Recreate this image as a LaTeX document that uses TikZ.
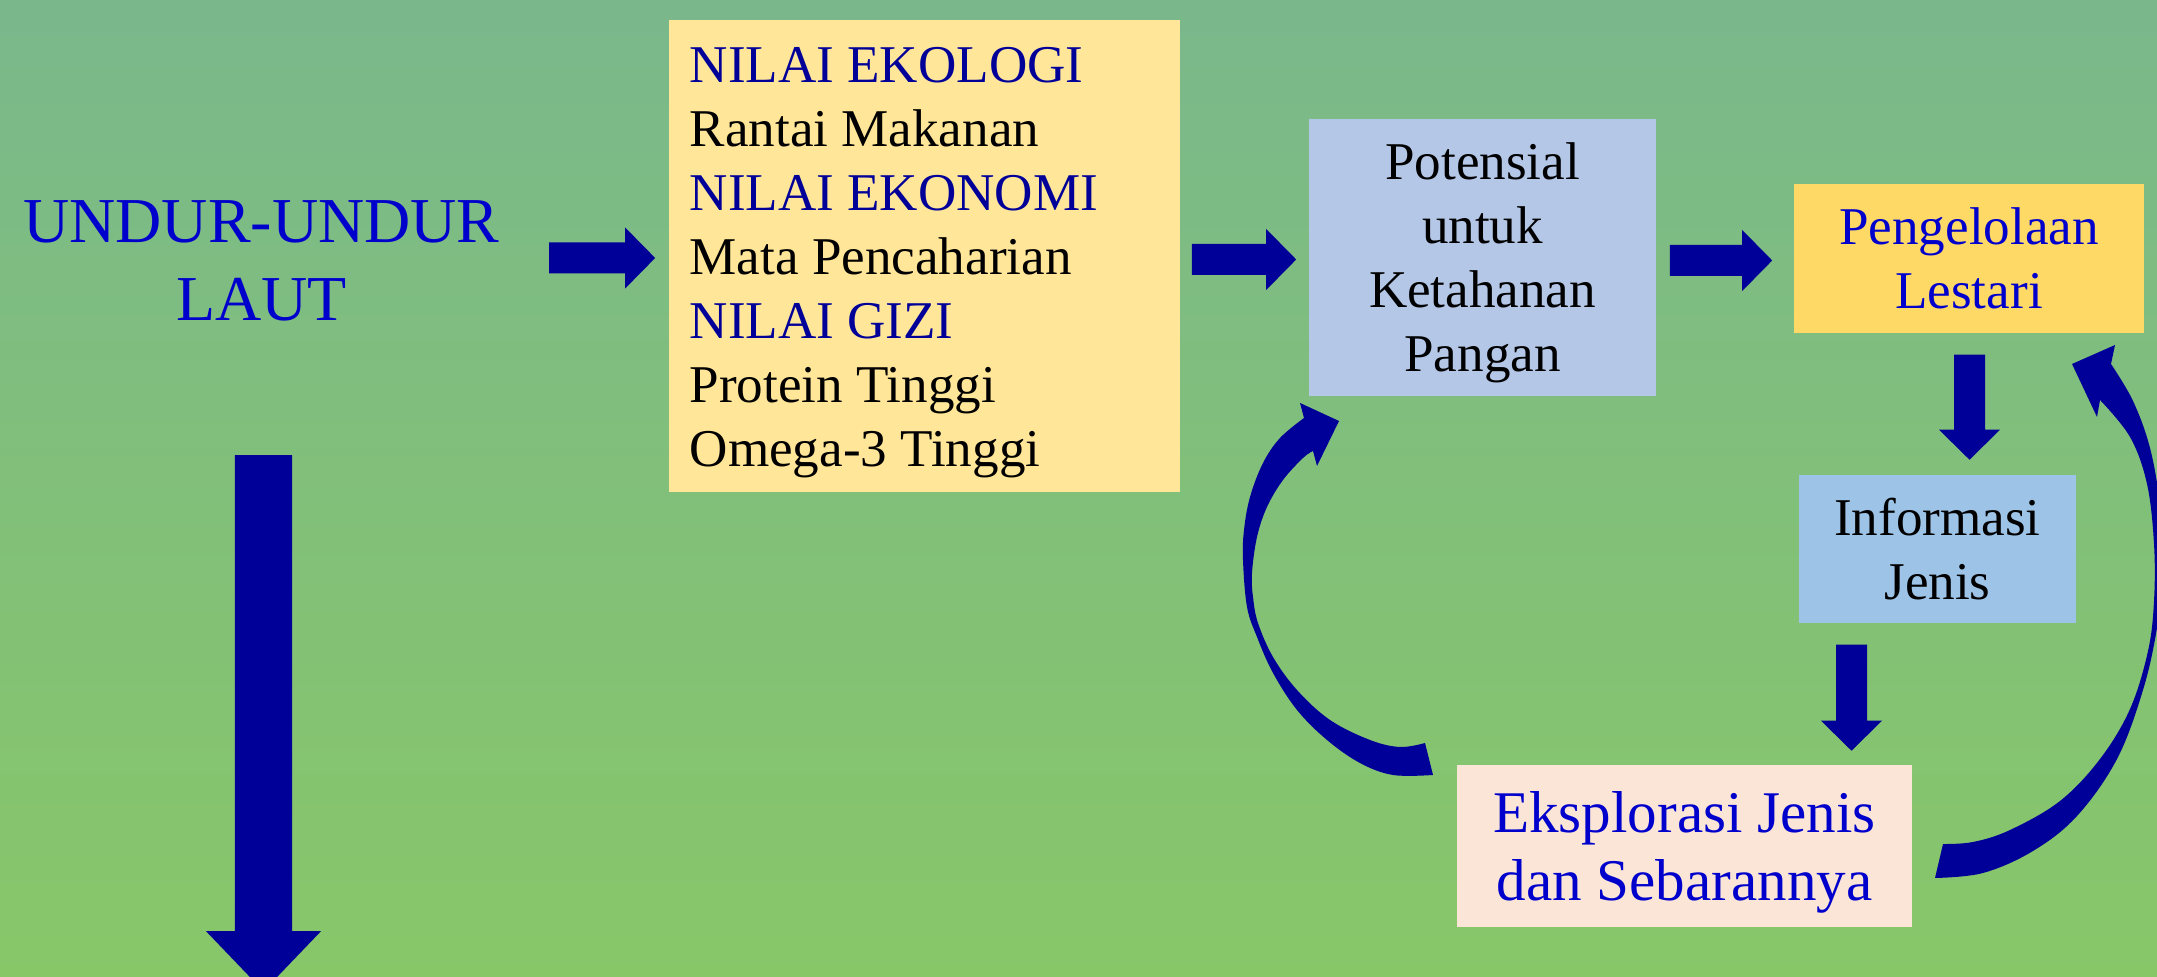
\documentclass[tikz,border=0pt]{standalone}
\usepackage{fontspec}
\setmainfont{Liberation Serif}
\usetikzlibrary{calc}
\definecolor{bgtop}{HTML}{7AB88C}
\definecolor{bgbot}{HTML}{88C768}
\definecolor{arrowc}{HTML}{000099}
\definecolor{navyt}{HTML}{000099}
\definecolor{bluet}{HTML}{0000CC}
\definecolor{yel}{HTML}{FFE699}
\definecolor{lblue}{HTML}{B4C7E7}
\definecolor{gold}{HTML}{FFD966}
\definecolor{sky}{HTML}{9DC3E6}
\definecolor{peach}{HTML}{FBE5D6}
\newcommand{\fbig}{\fontsize{18.2pt}{22.2pt}\selectfont}
\newcommand{\fmid}{\fontsize{15.1pt}{18.2pt}\selectfont}
\newcommand{\fex}{\fontsize{16.8pt}{19.6pt}\selectfont}
% horizontal block arrow: start, tip, half shaft, half head, head length
\newcommand{\hblk}[5]{\fill[arrowc] let \p1=#1, \p2=#2 in (\x1,\y1+#3) -- (\x2-#5,\y1+#3) -- (\x2-#5,\y1+#4) -- (\x2,\y1) -- (\x2-#5,\y1-#4) -- (\x2-#5,\y1-#3) -- (\x1,\y1-#3) -- cycle;}
% downward block arrow
\newcommand{\vblk}[5]{\fill[arrowc] let \p1=#1, \p2=#2 in (\x1-#3,\y1) -- (\x1-#3,\y2+#5) -- (\x1-#4,\y2+#5) -- (\x1,\y2) -- (\x1+#4,\y2+#5) -- (\x1+#3,\y2+#5) -- (\x1+#3,\y1) -- cycle;}
\tikzset{
  boxnode/.style={rectangle, draw=none, inner sep=0pt, text depth=0pt, align=center},
}
\begin{document}
\begin{tikzpicture}[x=0.01cm, y=-0.01cm]
\useasboundingbox (0,0) rectangle (2157,977);
\clip (0,0) rectangle (2157,977);
\shade[top color=bgtop, bottom color=bgbot] (0,0) rectangle (2157,977);

\node[boxnode, text=bluet, font=\fbig] (undur) at (261.5,260.5) {UNDUR-UNDUR\\LAUT};

\node[boxnode, fill=yel, minimum width=5.11cm, minimum height=4.72cm] (box1) at (924.5,256) {};
\node[boxnode, font=\fmid, align=left, anchor=north west] (box1txt) at (689,47)
  {\textcolor{navyt}{NILAI EKOLOGI}\\Rantai Makanan\\\textcolor{navyt}{NILAI EKONOMI}\\Mata Pencaharian\\\textcolor{navyt}{NILAI GIZI}\\Protein Tinggi\\Omega-3 Tinggi};

\node[boxnode, fill=lblue, font=\fmid, minimum width=3.47cm, minimum height=2.77cm] (box2) at (1482.5,257.5)
  {Potensial\\untuk\\Ketahanan\\Pangan};

\node[boxnode, fill=gold, font=\fmid, text=bluet, minimum width=3.5cm, minimum height=1.49cm] (box3) at (1969,258.5)
  {Pengelolaan\\Lestari};

\node[boxnode, fill=sky, font=\fmid, minimum width=2.77cm, minimum height=1.48cm] (box4) at (1937.5,549)
  {Informasi\\Jenis};

\node[boxnode, fill=peach, font=\fex, text=bluet, minimum width=4.55cm, minimum height=1.62cm] (box5) at (1684.5,846)
  {Eksplorasi Jenis\\dan Sebarannya};

% straight block arrows
\hblk{($(box1.west)+(-119,2)$)}{($(box1.west)+(-13,2)$)}{0.155cm}{0.305cm}{0.3cm}
\hblk{($(box1.east |- box2.west)+(11,2)$)}{($(box2.west)+(-12,2)$)}{0.155cm}{0.305cm}{0.3cm}
\hblk{($(box2.east |- box3.west)+(13,2)$)}{($(box3.west)+(-21,2)$)}{0.155cm}{0.305cm}{0.3cm}
\vblk{($(box3.south)+(0.5,21)$)}{($(box3.south)+(0.5,126)$)}{0.155cm}{0.305cm}{0.3cm}
\vblk{($(box4.south)+(-86,21)$)}{($(box4.south)+(-86,127)$)}{0.155cm}{0.305cm}{0.3cm}
\vblk{($(undur.south)+(2,134)$)}{($(undur.south)+(2,670)$)}{0.285cm}{0.575cm}{0.6cm}

% curved arrow: Eksplorasi -> Potensial
\fill[arrowc] plot[smooth, tension=0.6] coordinates {(1433,775) (1393,775) (1360,763) (1327,740) (1297,710) (1273,673) (1257,637) (1247,607) (1243,560) (1244,530) (1250,497) (1263,463) (1280,438) (1304,418)}
  -- (1300,403) -- (1339,421) -- (1317,466)
  -- plot[smooth, tension=0.6] coordinates {(1313,451) (1303,458) (1283,480) (1267,507) (1257,537) (1252,573) (1253,597) (1258,623) (1273,657) (1297,690) (1330,720) (1370,740) (1400,747) (1425,743)} -- cycle;

% curved arrow: Eksplorasi -> Pengelolaan
\fill[arrowc] plot[smooth, tension=0.6] coordinates {(1935,878) (1983,873) (2033,851) (2077,816) (2117,759) (2143,690) (2157,628) (2164,566) (2160,505) (2150,448) (2133,401) (2111,364)}
  -- (2115,345) -- (2072,364) -- (2097,417)
  -- plot[smooth, tension=0.6] coordinates {(2100,400) (2130,437) (2147,484) (2154,544) (2154,601) (2148,651) (2130,709) (2100,759) (2060,801) (2010,830) (1973,842) (1943,844)} -- cycle;
\end{tikzpicture}
\end{document}
